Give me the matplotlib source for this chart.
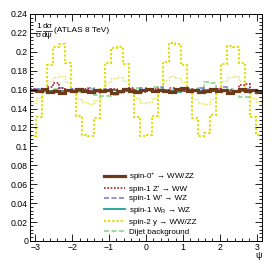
import numpy as np
import matplotlib
matplotlib.use('Agg')
import matplotlib.pyplot as plt
from matplotlib.ticker import MultipleLocator, FuncFormatter

plt.rcParams['font.family'] = ['Liberation Sans', 'DejaVu Sans']
plt.rcParams['mathtext.fontset'] = 'custom'
plt.rcParams['mathtext.rm'] = 'Liberation Sans'
plt.rcParams['mathtext.it'] = 'Liberation Sans:italic'
plt.rcParams['mathtext.sf'] = 'Liberation Sans'

# 40 bins over [-pi, pi]
n_bins = 40
edges = np.linspace(-np.pi, np.pi, n_bins + 1)

spin2_a = [0.111, 0.131, 0.158, 0.186, 0.205, 0.208, 0.188, 0.160, 0.132, 0.112,
           0.111, 0.130, 0.161, 0.188, 0.204, 0.205, 0.187, 0.158, 0.131, 0.111,
           0.112, 0.132, 0.160, 0.189, 0.209, 0.208, 0.186, 0.161, 0.130, 0.111,
           0.114, 0.133, 0.159, 0.187, 0.206, 0.205, 0.188, 0.160, 0.131, 0.112]
spin2_b = [0.146, 0.151, 0.161, 0.169, 0.173, 0.174, 0.168, 0.160, 0.150, 0.147,
           0.145, 0.149, 0.159, 0.168, 0.172, 0.173, 0.169, 0.161, 0.151, 0.146,
           0.147, 0.151, 0.160, 0.170, 0.174, 0.172, 0.168, 0.159, 0.150, 0.146,
           0.145, 0.150, 0.161, 0.169, 0.173, 0.174, 0.169, 0.160, 0.151, 0.147]
spin0 = [0.160, 0.158, 0.161, 0.157, 0.159, 0.156, 0.160, 0.158, 0.161, 0.159,
         0.157, 0.160, 0.158, 0.160, 0.156, 0.159, 0.161, 0.158, 0.157, 0.160,
         0.161, 0.158, 0.160, 0.159, 0.157, 0.161, 0.162, 0.158, 0.160, 0.157,
         0.159, 0.161, 0.158, 0.160, 0.156, 0.159, 0.161, 0.158, 0.160, 0.157]
spin1_z = [0.161, 0.159, 0.160, 0.163, 0.167, 0.162, 0.158, 0.160, 0.159, 0.161,
           0.158, 0.157, 0.160, 0.159, 0.161, 0.158, 0.160, 0.162, 0.159, 0.157,
           0.160, 0.161, 0.158, 0.159, 0.162, 0.160, 0.158, 0.161, 0.159, 0.160,
           0.157, 0.159, 0.161, 0.158, 0.160, 0.159, 0.165, 0.166, 0.160, 0.158]
spin1_w = [0.158, 0.161, 0.159, 0.157, 0.160, 0.162, 0.159, 0.161, 0.158, 0.160,
           0.162, 0.159, 0.157, 0.161, 0.160, 0.158, 0.161, 0.159, 0.160, 0.162,
           0.158, 0.160, 0.163, 0.159, 0.158, 0.161, 0.160, 0.157, 0.159, 0.162,
           0.160, 0.158, 0.161, 0.163, 0.159, 0.157, 0.158, 0.161, 0.160, 0.159]
spin1_wr = [0.159, 0.158, 0.160, 0.159, 0.157, 0.159, 0.160, 0.158, 0.159, 0.160,
            0.158, 0.159, 0.157, 0.159, 0.160, 0.158, 0.159, 0.160, 0.158, 0.159,
            0.160, 0.159, 0.158, 0.160, 0.159, 0.157, 0.159, 0.160, 0.158, 0.159,
            0.160, 0.158, 0.159, 0.160, 0.158, 0.157, 0.159, 0.160, 0.158, 0.159]
dijet = [0.158, 0.160, 0.157, 0.159, 0.161, 0.158, 0.160, 0.159, 0.157, 0.160,
         0.161, 0.154, 0.153, 0.153, 0.154, 0.156, 0.159, 0.161, 0.162, 0.160,
         0.161, 0.163, 0.162, 0.159, 0.160, 0.158, 0.161, 0.160, 0.161, 0.162,
         0.168, 0.167, 0.160, 0.158, 0.161, 0.157, 0.152, 0.152, 0.158, 0.159]

labels = [r'spin-0$^{+}$ → WW/ZZ',
          r"spin-1 Z' → WW",
          r"spin-1 W' → WZ",
          r'spin-1 W$_{\mathrm{R}}$ → WZ',
          r'spin-2 y → WW/ZZ',
          'Dijet background']

fig = plt.figure(figsize=(2.76, 2.68), dpi=100)
ax = fig.add_axes([0.109, 0.101, 0.840, 0.847])

# drawing order: yellow first, brown on top
ax.stairs(spin2_b, edges, baseline=None, color='#e4e45c', lw=1.0, ls=(0, (1, 1)))
h_y = ax.stairs(spin2_a, edges, baseline=None, color='#dede00', lw=1.5, ls=(0, (1, 1)))
h_g = ax.stairs(dijet, edges, baseline=None, color='#8fd68f', lw=1.2, ls=(0, (3, 1.5)))
h_b = ax.stairs(spin1_w, edges, baseline=None, color='#8080d0', lw=1.2, ls=(0, (3, 1.5)))
h_t = ax.stairs(spin1_wr, edges, baseline=None, color='#1f9e9a', lw=1.3)
h_r = ax.stairs(spin1_z, edges, baseline=None, color='#b01c2e', lw=1.2, ls=(0, (1, 1)))
h_br = ax.stairs(spin0, edges, baseline=None, color='#6b3a1a', lw=2.3)

leg = ax.legend([h_br, h_r, h_b, h_t, h_y, h_g], labels, loc='upper left',
                bbox_to_anchor=(0.305, 0.325), frameon=False, fontsize=5.8,
                handlelength=2.6, handletextpad=0.5, labelspacing=0.28,
                borderaxespad=0.0)

ax.set_xlim(-np.pi, np.pi)
ax.set_ylim(0, 0.24)
ax.xaxis.set_major_locator(MultipleLocator(1))
ax.xaxis.set_minor_locator(MultipleLocator(0.2))
ax.yaxis.set_major_locator(MultipleLocator(0.02))
ax.yaxis.set_minor_locator(MultipleLocator(0.004))
ax.yaxis.set_major_formatter(FuncFormatter(lambda v, p: '%g' % round(v, 3)))
ax.tick_params(which='both', direction='in', top=True, right=True,
               labelsize=6.3, width=0.6, pad=1.5)
ax.tick_params(which='major', length=5)
ax.tick_params(which='minor', length=2.5)
for s in ax.spines.values():
    s.set_linewidth(0.7)

# y title built as two stacked fractions, ROOT style
fs = 6.0
tr = ax.transAxes
ybar = 0.926
x0 = 0.012
ax.text(x0 + 0.024, ybar + 0.004, '1', transform=tr, ha='center', va='bottom', fontsize=fs)
ax.text(x0 + 0.024, ybar - 0.004, 'σ', transform=tr, ha='center', va='top', fontsize=fs)
ax.plot([x0 + 0.014, x0 + 0.034], [ybar, ybar], transform=tr, color='black', lw=0.5)
ax.text(x0 + 0.062, ybar + 0.004, 'dσ', transform=tr, ha='center', va='bottom', fontsize=fs)
ax.text(x0 + 0.062, ybar - 0.004, 'dψ', transform=tr, ha='center', va='top', fontsize=fs)
ax.plot([x0 + 0.043, x0 + 0.081], [ybar, ybar], transform=tr, color='black', lw=0.5)
ax.text(x0 + 0.090, ybar, '(ATLAS 8 TeV)', transform=tr, ha='left', va='center',
        fontsize=fs)
ax.text(1.0, -0.045, 'ψ', transform=tr, ha='right', va='top', fontsize=6.5)

fig.savefig('out.png', dpi=100)
